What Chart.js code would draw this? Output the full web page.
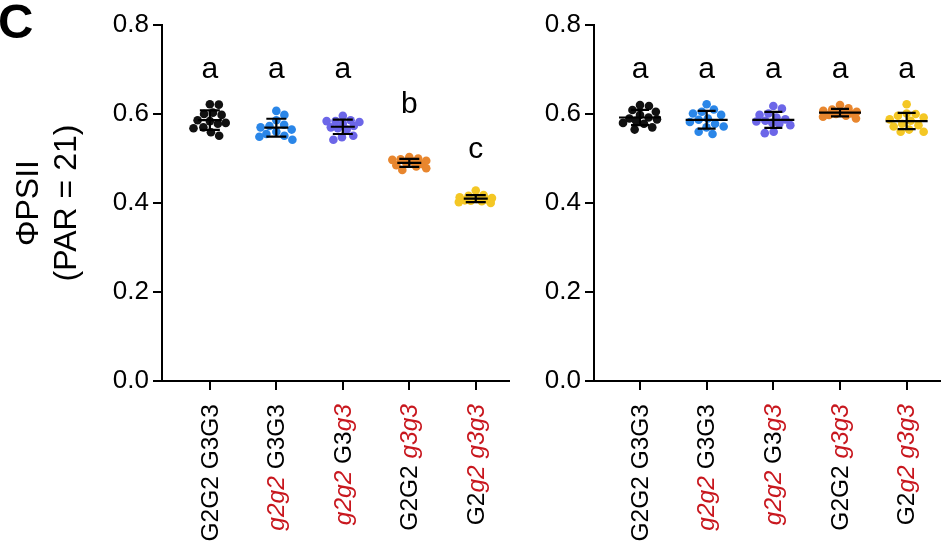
<!DOCTYPE html>
<html>
<head>
<meta charset="utf-8">
<script src="https://cdn.jsdelivr.net/npm/chart.js@4.4.1/dist/chart.umd.min.js"></script>
<style>
    html, body { margin: 0; padding: 0; background: #fff; }
    #wrap { position: relative; width: 946px; height: 545px; overflow: hidden; }
    #leftChart { position: absolute; left: 0; top: 0; }
    #rightChart { position: absolute; left: 520px; top: 0; }
</style>
</head>
<body>
<div id="wrap">
    <canvas id="leftChart" width="520" height="545"></canvas>
    <canvas id="rightChart" width="426" height="545"></canvas>
</div>
<script>
const categories = ["G2G2 G3G3", "g2g2 G3G3", "g2g2 G3g3", "G2G2 g3g3", "G2g2 g3g3"];
const groupColors = ["#111111", "#2a86e8", "#6c66e8", "#e8862e", "#f4c724"];
const yTicks = [0, 0.2, 0.4, 0.6, 0.8];
const yTitle = ["\u03A6PSII", "(PAR = 21)"];
const panelTag = "C";

// left panel, one array per genotype
const leftBlack = [0.622, 0.621, 0.603, 0.600, 0.598, 0.586, 0.584, 0.580, 0.578, 0.570, 0.568, 0.559, 0.551];
const leftBlue = [0.607, 0.598, 0.586, 0.576, 0.573, 0.570, 0.565, 0.560, 0.555, 0.551, 0.549, 0.542];
const leftPurple = [0.596, 0.586, 0.584, 0.584, 0.582, 0.578, 0.573, 0.570, 0.568, 0.565, 0.551, 0.548, 0.542];
const leftOrange = [0.503, 0.500, 0.498, 0.497, 0.495, 0.493, 0.490, 0.488, 0.485, 0.482, 0.478, 0.474];
const leftYellow = [0.428, 0.418, 0.416, 0.413, 0.411, 0.409, 0.408, 0.406, 0.405, 0.404, 0.402, 0.400];
const leftLetters = ["a", "a", "a", "b", "c"];

// right panel
const rightBlack = [0.620, 0.618, 0.609, 0.605, 0.598, 0.592, 0.590, 0.588, 0.585, 0.580, 0.578, 0.570, 0.565];
const rightBlue = [0.622, 0.610, 0.605, 0.601, 0.598, 0.590, 0.587, 0.582, 0.578, 0.572, 0.570, 0.560, 0.555];
const rightPurple = [0.618, 0.612, 0.601, 0.598, 0.592, 0.588, 0.585, 0.583, 0.580, 0.578, 0.575, 0.560, 0.557];
const rightOrange = [0.620, 0.613, 0.610, 0.607, 0.605, 0.603, 0.601, 0.600, 0.598, 0.596, 0.594, 0.590];
const rightYellow = [0.622, 0.601, 0.600, 0.596, 0.592, 0.588, 0.585, 0.578, 0.575, 0.572, 0.565, 0.560, 0.560];
const rightLetters = ["a", "a", "a", "a", "a"];

const FONT = '"Liberation Sans", Arial, sans-serif';
const RED = "#c8171e";
const PX_PER_VALUE = 445;
const PX_PER_CAT = 66.7;
const DOT = 9;        // spacing wanted between dot centres
const MAX_HALF = 17;  // swarm never gets wider than this (px each side); dots overlap instead

/* Spreads points sideways (beeswarm) within a fixed width, letting them overlap when crowded. */
function swarmOffsets(values) {
    const order = values.map((v, i) => i).sort((a, b) => values[b] - values[a]);
    const placed = [];
    const offsets = new Array(values.length).fill(0);
    const minDist = (c, y, near) => near.reduce((m, p) => Math.min(m, Math.hypot(p.x - c, p.y - y)), Infinity);
    order.forEach((i) => {
        const y = values[i] * PX_PER_VALUE;
        const near = placed.filter((p) => Math.abs(p.y - y) < DOT);
        const candidates = [0];
        near.forEach((p) => {
            const dx = Math.sqrt(DOT * DOT - (p.y - y) ** 2);
            candidates.push(p.x + dx, p.x - dx);
        });
        candidates.sort((a, b) => Math.abs(a) - Math.abs(b));
        let x = candidates.find((c) => Math.abs(c) <= MAX_HALF && minDist(c, y, near) >= DOT - 0.01);
        if (x === undefined) {
            let best = -1;
            for (let c = -MAX_HALF; c <= MAX_HALF; c += 1) {
                const d = minDist(c, y, near);
                if (d > best + 0.01 || (Math.abs(d - best) <= 0.01 && Math.abs(c) < Math.abs(x))) {
                    best = d;
                    x = c;
                }
            }
        }
        placed.push({ x: x, y: y });
        offsets[i] = x;
    });
    return offsets;
}

function buildDatasets(groups) {
    return groups.map((values, g) => {
        const offsets = swarmOffsets(values);
        return {
            label: categories[g],
            data: values.map((v, i) => ({ x: g + 1 + offsets[i] / PX_PER_CAT, y: v })),
            backgroundColor: groupColors[g],
            borderWidth: 0,
            pointRadius: 4.3,
            pointHoverRadius: 4.3,
        };
    });
}

const mean = (a) => a.reduce((s, v) => s + v, 0) / a.length;
const sd = (a) => {
    const m = mean(a);
    return Math.sqrt(a.reduce((s, v) => s + (v - m) ** 2, 0) / (a.length - 1));
};

/* Mean line with SD whiskers for every group. */
const errorBars = {
    id: "errorBars",
    afterDatasetsDraw(chart, args, opts) {
        const { ctx, scales: { x, y } } = chart;
        ctx.save();
        ctx.strokeStyle = "#000";
        ctx.lineWidth = 2.2;
        chart.data.datasets.forEach((ds, i) => {
            const vals = ds.data.map((p) => p.y);
            const m = mean(vals);
            const s = sd(vals);
            const cx = x.getPixelForValue(i + 1);
            const ym = y.getPixelForValue(m);
            const yt = y.getPixelForValue(m + s);
            const yb = y.getPixelForValue(m - s);
            ctx.beginPath();
            ctx.moveTo(cx - opts.meanHalf, ym);
            ctx.lineTo(cx + opts.meanHalf, ym);
            ctx.moveTo(cx, yt);
            ctx.lineTo(cx, yb);
            ctx.moveTo(cx - opts.capHalf, yt);
            ctx.lineTo(cx + opts.capHalf, yt);
            ctx.moveTo(cx - opts.capHalf, yb);
            ctx.lineTo(cx + opts.capHalf, yb);
            ctx.stroke();
        });
        ctx.restore();
    },
};

/* Vertical genotype labels: recessive alleles (lower-case g) in red italics. */
const genotypeLabels = {
    id: "genotypeLabels",
    afterDraw(chart) {
        const { ctx, scales: { x } } = chart;
        const top = x.top + 23;
        ctx.save();
        ctx.textBaseline = "middle";
        ctx.textAlign = "left";
        categories.forEach((label, i) => {
            const parts = label.match(/[A-Za-z]\d| /g).map((t) => ({
                text: t,
                recessive: /^[a-z]/.test(t),
            }));
            parts.forEach((p) => {
                ctx.font = (p.recessive ? "italic " : "") + "24.5px " + FONT;
                p.w = ctx.measureText(p.text).width;
            });
            const total = parts.reduce((s, p) => s + p.w, 0);
            ctx.save();
            ctx.translate(x.getPixelForValue(i + 1) + 1, top);
            ctx.rotate(-Math.PI / 2);
            let pos = -total;
            parts.forEach((p) => {
                ctx.font = (p.recessive ? "italic " : "") + "24.5px " + FONT;
                ctx.fillStyle = p.recessive ? RED : "#000";
                ctx.fillText(p.text, pos, 0);
                pos += p.w;
            });
            ctx.restore();
        });
        ctx.restore();
    },
};

/* Significance letters above groups, plus panel tag. */
const annotations = {
    id: "annotations",
    afterDraw(chart, args, opts) {
        const { ctx, scales: { x, y } } = chart;
        ctx.save();
        ctx.fillStyle = "#000";
        ctx.textAlign = "center";
        ctx.textBaseline = "middle";
        ctx.font = "30px " + FONT;
        opts.letters.forEach((letter, i) => {
            ctx.fillText(letter, x.getPixelForValue(i + 1), y.getPixelForValue(opts.letterAt[i]));
        });
        if (opts.tag) {
            ctx.font = "bold 49px " + FONT;
            ctx.textAlign = "left";
            ctx.textBaseline = "alphabetic";
            ctx.fillText(opts.tag, -2, 38);
        }
        ctx.restore();
    },
};

function makeChart(canvasId, groups, cfg) {
    const ctx = document.getElementById(canvasId);
    return new Chart(ctx, {
        type: "scatter",
        data: { datasets: buildDatasets(groups) },
        plugins: [errorBars, genotypeLabels, annotations],
        options: {
            responsive: false,
            animation: false,
            devicePixelRatio: 1,
            events: [],
            layout: { padding: { top: 25, right: cfg.padRight, left: 0, bottom: 0 } },
            plugins: {
                legend: { display: false },
                tooltip: { enabled: false },
                errorBars: { meanHalf: cfg.meanHalf, capHalf: cfg.capHalf },
                annotations: { letters: cfg.letters, letterAt: cfg.letterAt, tag: cfg.tag },
            },
            scales: {
                x: {
                    type: "linear",
                    min: cfg.xMin,
                    max: 5.5,
                    afterBuildTicks: (s) => {
                        s.ticks = categories.map((c, i) => ({ value: i + 1 }));
                    },
                    afterFit: (s) => {
                        s.height = 164;
                    },
                    ticks: { display: false },
                    grid: { drawOnChartArea: false, drawTicks: true, tickLength: 9, color: "#000", lineWidth: 2 },
                    border: { display: true, color: "#000", width: 2 },
                },
                y: {
                    min: 0,
                    max: 0.8,
                    afterBuildTicks: (s) => {
                        s.ticks = yTicks.map((v) => ({ value: v }));
                    },
                    afterFit: (s) => {
                        s.width = cfg.yWidth;
                    },
                    ticks: {
                        color: "#000",
                        padding: 4,
                        font: { size: 26, family: FONT },
                        callback: (v) => v.toFixed(1),
                    },
                    grid: { drawOnChartArea: false, drawTicks: true, tickLength: 9, color: "#000", lineWidth: 2 },
                    border: { display: true, color: "#000", width: 2 },
                    title: {
                        display: cfg.showTitle,
                        text: yTitle,
                        color: "#000",
                        font: { size: 32, family: FONT, lineHeight: 1.2 },
                        padding: { top: 10, bottom: 0 },
                    },
                },
            },
        },
    });
}

document.addEventListener("DOMContentLoaded", function () {
    makeChart("leftChart", [leftBlack, leftBlue, leftPurple, leftOrange, leftYellow], {
        yWidth: 162,
        padRight: 11,
        xMin: 0.28,
        meanHalf: 12,
        capHalf: 10,
        letters: leftLetters,
        letterAt: [0.70, 0.70, 0.70, 0.62, 0.52],
        tag: panelTag,
        showTitle: true,
    });
    makeChart("rightChart", [rightBlack, rightBlue, rightPurple, rightOrange, rightYellow], {
        yWidth: 74,
        padRight: 6,
        xMin: 0.31,
        meanHalf: 21,
        capHalf: 9,
        letters: rightLetters,
        letterAt: [0.70, 0.70, 0.70, 0.70, 0.70],
        tag: null,
        showTitle: false,
    });
});
</script>
</body>
</html>
